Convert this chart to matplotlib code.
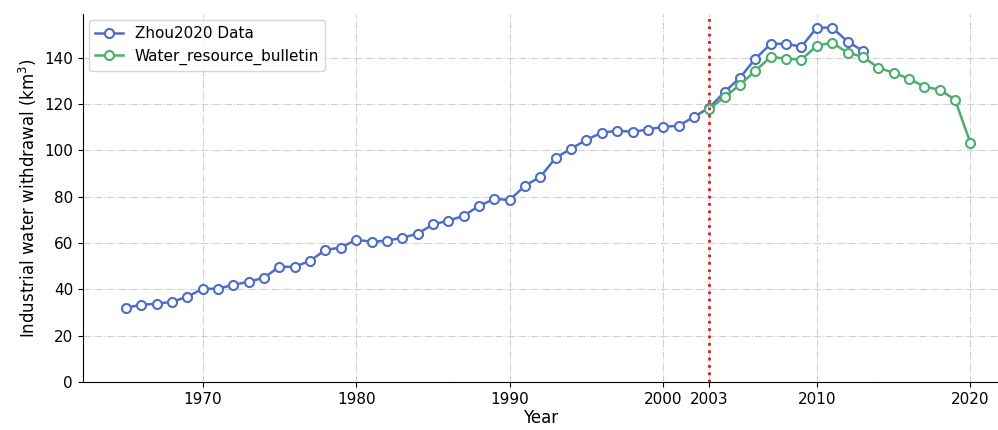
import matplotlib.pyplot as plt
import numpy as np

# Zhou2020 data, 1965-2013
zhou_years = np.arange(1965, 2014)
zhou_vals = [32.0, 33.3, 33.7, 34.6, 36.7, 40.2, 40.2, 41.9, 43.2, 45.0,
             49.7, 49.7, 52.3, 57.0, 58.0, 61.4, 60.5, 61.0, 62.2, 64.0,
             68.0, 69.6, 71.7, 76.0, 79.0, 78.6, 84.7, 88.6, 96.8, 100.7,
             104.6, 107.6, 108.5, 108.0, 109.0, 110.2, 110.6, 114.5, 118.4, 125.3,
             131.4, 139.6, 146.0, 146.0, 144.8, 153.0, 153.0, 147.0, 143.0]

# water resource bulletin, 2003-2020
wrb_years = np.arange(2003, 2021)
wrb_vals = [118.0, 123.0, 128.4, 134.4, 140.4, 139.6, 139.2, 145.2, 146.5, 142.2,
            140.4, 135.7, 133.5, 131.0, 127.5, 126.2, 121.9, 103.3]

xticks = [1970, 1980, 1990, 2000, 2003, 2010, 2020]

fig = plt.figure(figsize=(9.98, 4.3), dpi=100)
ax = fig.add_axes([0.083, 0.112, 0.917, 0.856])

ax.plot(zhou_years, zhou_vals, color='#4c6fc4', lw=1.8, marker='o', ms=6.5,
        mfc='white', mec='#4c6fc4', mew=1.5, label='Zhou2020 Data', zorder=3)
ax.plot(wrb_years, wrb_vals, color='#4bae6c', lw=1.8, marker='o', ms=6.5,
        mfc='white', mec='#4bae6c', mew=1.5, label='Water_resource_bulletin', zorder=3)

ax.axvline(2003, color='#d42020', ls=':', lw=2, zorder=4)

ax.set_xlim(1962.2, 2021.8)
ax.set_ylim(0, 159)
ax.set_xticks(xticks)
ax.set_yticks(range(0, 141, 20))
ax.tick_params(labelsize=11)
ax.grid(True, ls='-.', color='#d0d0d0', lw=0.8)
ax.spines['top'].set_visible(False)
ax.spines['right'].set_visible(False)

ax.set_xlabel('Year', fontsize=12, labelpad=2)
ax.set_ylabel('Industrial water withdrawal (km$^3$)', fontsize=12)
ax.legend(loc='upper left', fontsize=11, handlelength=1.8, borderaxespad=0.4)

fig.savefig('out.png', dpi=100)
